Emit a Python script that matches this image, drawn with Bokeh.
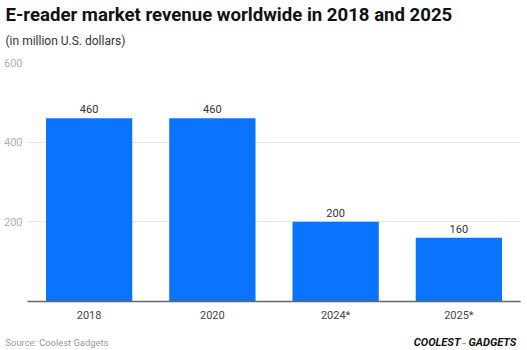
from bokeh.plotting import figure
from bokeh.layouts import column, row
from bokeh.models import ColumnDataSource, Range1d, FixedTicker, Label, LabelSet
from bokeh.core.properties import value
from bokeh.embed import file_html
from bokeh.resources import INLINE

years = ["2018", "2020", "2024*", "2025*"]
revenue = [460, 460, 200, 160]
y_ticks = [200, 400, 600]

W = 527
HEAD_H = 56
FOOT_H = 26
MAIN_H = 350 - HEAD_H - FOOT_H

def text_fig(h):
    f = figure(width=W, height=h, x_range=Range1d(0, W), y_range=Range1d(h, 0),
               output_backend="svg", toolbar_location=None,
               x_axis_location=None, y_axis_location=None, min_border=0)
    f.outline_line_color = None
    f.grid.visible = False
    f.border_fill_color = "white"
    f.background_fill_color = "white"
    return f

def lab(f, x, y, text, **kw):
    f.add_layout(Label(x=x, y=y, text=text, text_baseline="middle", text_font="Roboto", **kw))

head = text_fig(HEAD_H)
lab(head, 5, 14, "E-reader market revenue worldwide in 2018 and 2025",
    text_font_style="bold", text_font_size="18.6px", text_color="#111111")
lab(head, 5, 40, "(in million U.S. dollars)", text_font_size="12px", text_color="#333333")

src = ColumnDataSource(dict(x=years, y=revenue, t=[str(v) for v in revenue]))

p = figure(width=W, height=MAIN_H, x_range=years, y_range=Range1d(0, 600),
           output_backend="svg", toolbar_location=None,
           min_border_left=27, min_border_right=7, min_border_top=6, min_border_bottom=22)
p.outline_line_color = None
p.background_fill_color = "white"
p.border_fill_color = "white"

p.vbar(x="x", top="y", width=0.7, source=src, color="#0A74FF", line_color=None)
p.add_layout(LabelSet(x="x", y="y", text="t", source=src, text_align="center", text_baseline="bottom",
                      y_offset=5, text_font=value("Roboto"), text_font_size=value("11px"), text_color="#333333"))

p.xgrid.grid_line_color = None
p.ygrid.grid_line_color = "#e6e6e6"
p.ygrid.ticker = FixedTicker(ticks=y_ticks)
p.yaxis.ticker = FixedTicker(ticks=y_ticks)
p.yaxis.axis_line_color = None
p.yaxis.major_tick_line_color = None
p.yaxis.major_tick_out = 0
p.yaxis.major_tick_in = 0
p.yaxis.minor_tick_line_color = None
p.yaxis.major_label_text_color = "#b0b0b0"
p.yaxis.major_label_text_font = "Roboto"
p.yaxis.major_label_text_font_size = "11px"
p.yaxis.major_label_standoff = 5
p.xaxis.axis_line_color = "#666666"
p.xaxis.axis_line_width = 1.5
p.xaxis.major_tick_line_color = None
p.xaxis.major_tick_out = 0
p.xaxis.major_tick_in = 0
p.xaxis.minor_tick_line_color = None
p.xaxis.major_label_text_color = "#444444"
p.xaxis.major_label_text_font = "Roboto"
p.xaxis.major_label_text_font_size = "11px"
p.xaxis.major_label_standoff = 7

foot = text_fig(FOOT_H)
fy = 342 - (350 - FOOT_H)
lab(foot, 5, fy, "Source: Coolest Gadgets", text_font_size="9.4px", text_color="#999999")
lab(foot, 460, fy, "COOLEST", text_align="right", text_font_style="bold italic", text_font_size="11px", text_color="#111111")
lab(foot, 464, fy, "-", text_align="center", text_font_style="bold", text_font_size="11px", text_color="#F28C28")
lab(foot, 468, fy, "GADGETS", text_align="left", text_font_style="bold italic", text_font_size="11px", text_color="#111111")

layout = column(row(head), p, row(foot), spacing=0)
open("out.html", "w").write(file_html(layout, INLINE))
